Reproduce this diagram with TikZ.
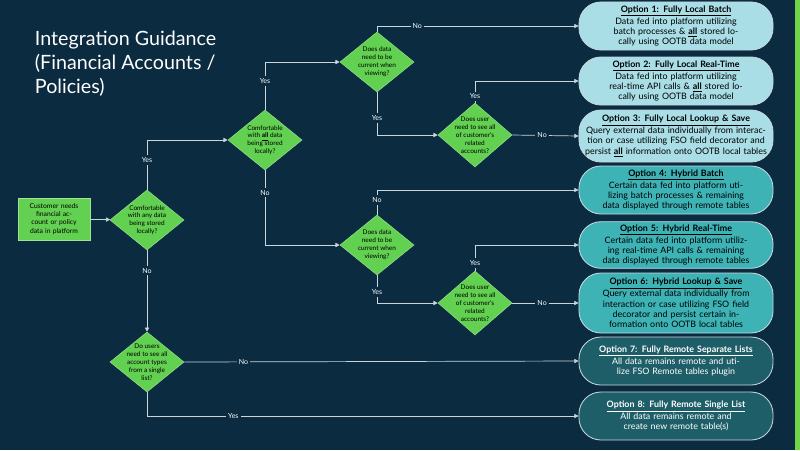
\documentclass[tikz,border=0pt]{standalone}
\usepackage{fontspec}
\setmainfont{Lato}
\usetikzlibrary{shapes.geometric,arrows.meta}
\definecolor{bg}{HTML}{0B2B40}
\definecolor{grn}{HTML}{62D050}
\definecolor{lcy}{HTML}{A9DEE6}
\definecolor{tea}{HTML}{3EB3B6}
\definecolor{dtl}{HTML}{1E5E68}
\definecolor{ln}{HTML}{C8D6DE}
\newcommand{\ul}[1]{\underline{\textbf{#1}}}
\begin{document}
\begin{tikzpicture}[x=0.025cm,y=-0.025cm,
 dia/.style={diamond,fill=grn,draw=grn!70!white,minimum width=1.85cm,minimum height=1.5cm,inner sep=0pt},
 dtx/.style={align=center,font=\fontsize{4.6}{5.6}\selectfont,text=black},
 opt/.style={draw=ln,line width=0.6pt,rounded corners=0.55cm,minimum width=4.85cm,align=center,font=\fontsize{6.3}{7.3}\selectfont,inner sep=2pt,text width=4.6cm},
 o1/.style={opt,fill=lcy,text=black},
 o2/.style={opt,fill=tea,text=black},
 o3/.style={opt,fill=dtl,text=white},
 lab/.style={fill=bg,text=white,font=\fontsize{5}{6}\selectfont,inner sep=1.5pt},
 con/.style={draw=ln,line width=0.5pt,-{Triangle[length=3pt,width=3pt]}}]
\fill[bg] (0,0) rectangle (800,450);
\fill[grn!90!yellow] (795,0) rectangle (800,450);
\node[anchor=north west,text=white,align=left,font=\fontsize{14}{17}\selectfont] (title) at (30,26) {Integration Guidance\\(Financial Accounts /\\Policies)};
\node[fill=grn,draw=grn!60!white,minimum width=1.8cm,minimum height=1.05cm,align=center,font=\fontsize{4.8}{5.8}\selectfont,text width=1.65cm,inner sep=1pt] (st) at (54,219) {Customer needs financial account or policy data in platform};
\node[dia] (d1) at (147,220) {}; \node[dtx] at (d1) {Comfortable\\with any data\\being stored\\locally?};
\node[dia] (d2) at (265,140) {}; \node[dtx] at (d2) {Comfortable\\with \ul{all} data\\being stored\\locally?};
\node[dia] (d3) at (377,62) {}; \node[dtx] at (d3) {Does data\\need to be\\current when\\viewing?};
\node[dia,minimum height=1.6cm] (d4) at (475,135) {}; \node[dtx] at (d4) {Does user\\need to see all\\of customer's\\related\\accounts?};
\node[dia] (d5) at (377,245) {}; \node[dtx] at (d5) {Does data\\need to be\\current when\\viewing?};
\node[dia,minimum height=1.6cm] (d6) at (475,303) {}; \node[dtx] at (d6) {Does user\\need to see all\\of customer's\\related\\accounts?};
\node[dia] (d7) at (147,362) {}; \node[dtx] at (d7) {Do users\\need to see all\\account types\\from a single\\list?};
\node[o1,minimum height=1.2cm] (p1) at (676,26) {\ul{Option 1: Fully Local Batch}\\Data fed into platform utilizing batch processes \& \ul{all} stored locally using OOTB data model};
\node[o1,minimum height=1.2cm] (p2) at (676,81) {\ul{Option 2: Fully Local Real-Time}\\Data fed into platform utilizing real-time API calls \& \ul{all} stored locally using OOTB data model};
\node[o1,minimum height=1.3cm] (p3) at (676,136) {\ul{Option 3: Fully Local Lookup \& Save}\\Query external data individually from interaction or case utilizing FSO field decorator and persist \ul{all} information onto OOTB local tables};
\node[o2,minimum height=1.2cm] (p4) at (676,190) {\ul{Option 4: Hybrid Batch}\\Certain data fed into platform utilizing batch processes \& remaining data displayed through remote tables};
\node[o2,minimum height=1.1cm] (p5) at (676,245) {\ul{Option 5: Hybrid Real-Time}\\Certain data fed into platform utilizing real-time API calls \& remaining data displayed through remote tables};
\node[o2,minimum height=1.5cm] (p6) at (676,303) {\ul{Option 6: Hybrid Lookup \& Save}\\Query external data individually from interaction or case utilizing FSO field decorator and persist certain information onto OOTB local tables};
\node[o3,minimum height=1.2cm] (p7) at (676,361) {\ul{Option 7: Fully Remote Separate Lists}\\All data remains remote and utilize FSO Remote tables plugin};
\node[o3,minimum height=1.2cm] (p8) at (676,416) {\ul{Option 8: Fully Remote Single List}\\All data remains remote and create new remote table(s)};
\draw[con] (st) -- (d1);
\draw[con] (d1.north) |- node[lab,pos=0.3]{Yes} (d2.west);
\draw[con] (d1.south) -- node[lab,pos=0.25]{No} (d7.north);
\draw[con] (d2.north) |- node[lab,pos=0.3]{Yes} (d3.west);
\draw[con] (d2.south) |- node[lab,pos=0.15]{No} (d5.west);
\draw[con] (d3.north) |- node[lab,pos=0.6]{No} (p1.west);
\draw[con] (d3.south) |- node[lab,pos=0.3]{Yes} (d4.west);
\draw[con] (d4.north) |- node[lab,pos=0.15]{Yes} (p2.west);
\draw[con] (d4.east) -- node[lab,pos=0.45]{No} (p3.west);
\draw[con] (d5.north) |- node[lab,pos=0.3]{No} (p4.west);
\draw[con] (d5.south) |- node[lab,pos=0.3]{Yes} (d6.west);
\draw[con] (d6.north) |- node[lab,pos=0.15]{Yes} (p5.west);
\draw[con] (d6.east) -- node[lab,pos=0.45]{No} (p6.west);
\draw[con] (d7.east) -- node[lab,pos=0.15]{No} (p7.west);
\draw[con] (d7.south) |- node[lab,pos=0.6]{Yes} (p8.west);
\end{tikzpicture}
\end{document}
